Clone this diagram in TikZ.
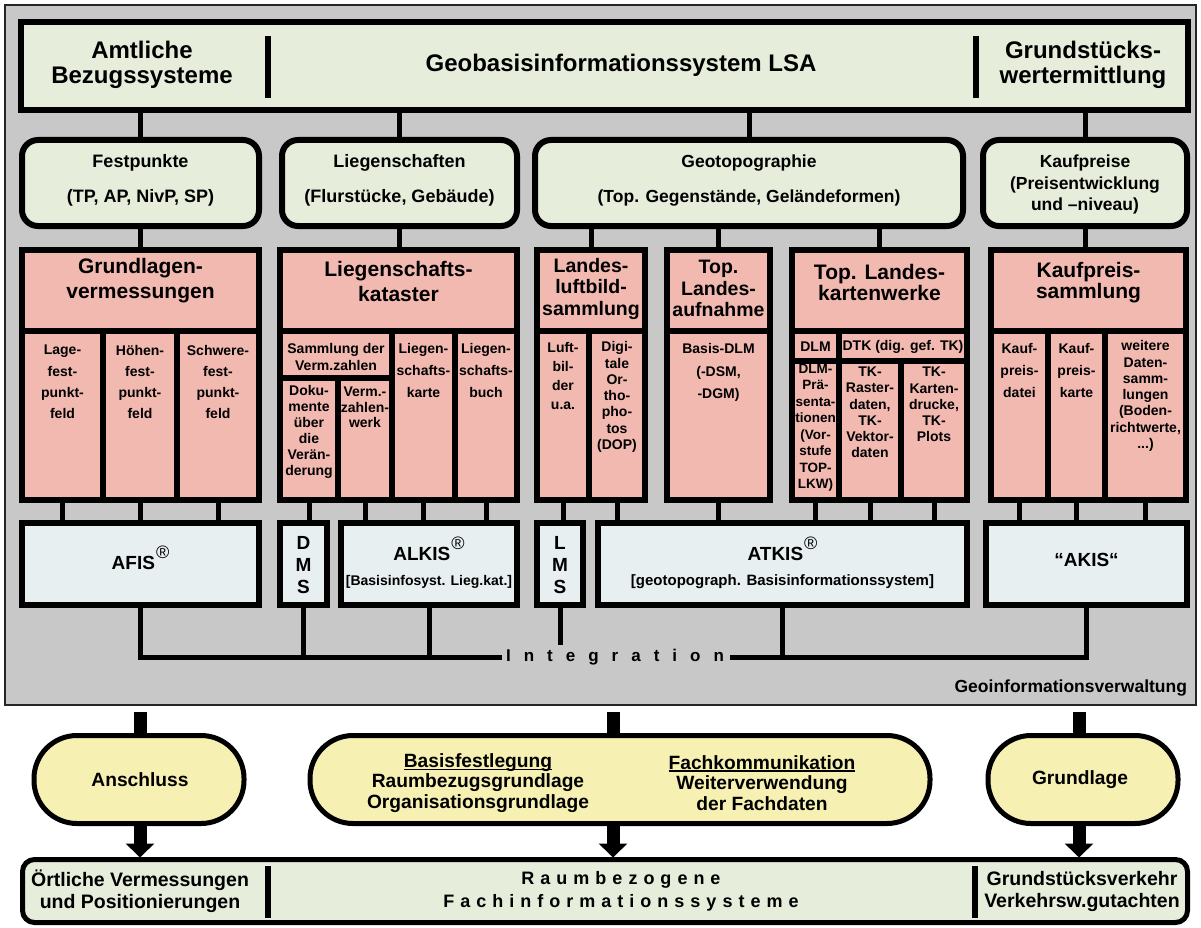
\documentclass[tikz,border=0pt]{standalone}
\usepackage{fontspec}
\setmainfont{Liberation Sans}
\usetikzlibrary{arrows.meta}
\definecolor{panelgray}{RGB}{200,200,200}
\definecolor{boxgreen}{RGB}{231,237,219}
\definecolor{boxpink}{RGB}{242,185,176}
\definecolor{boxblue}{RGB}{232,239,240}
\definecolor{boxyellow}{RGB}{246,240,178}
\newcommand\myfs[2]{\fontsize{#1}{#2}\selectfont\bfseries}
\newcommand\intfont{\myfs{17}{20}\spaceskip=13pt\relax}
\newcommand\raumfont{\myfs{18}{23}\spaceskip=6pt\relax}
\newcommand\regmark{\hspace{1pt}\raisebox{11pt}{\mdseries\fontsize{18}{18}\selectfont ®}}
\newsavebox\myulbox
\newcommand\myul[1]{\sbox\myulbox{#1}\rlap{\rule[-2.5pt]{\wd\myulbox}{1.4pt}}\usebox\myulbox}
\newcommand\mkbox[6]{%
  \pgfmathsetmacro\mkW{#5-#3}\pgfmathsetmacro\mkH{#6-#4}%
  \pgfmathsetmacro\mkX{(#3+#5)/2}\pgfmathsetmacro\mkY{(#4+#6)/2}%
  \node[#1, minimum width=\mkW pt, minimum height=\mkH pt] (#2) at (\mkX,\mkY) {};}
\tikzset{
  every node/.style={inner sep=0pt, outer sep=0pt},
  panelbox/.style={draw=black!85, line width=1.5pt, fill=panelgray},
  headbox/.style={draw, line width=6pt, fill=boxgreen},
  roundbox/.style={draw, line width=6pt, rounded corners=16pt, fill=boxgreen},
  pinkbox/.style={draw, line width=6pt, fill=boxpink},
  bluebox/.style={draw, line width=6pt, fill=boxblue},
  ovalbox/.style={draw, line width=5pt, rounded corners=43pt, fill=boxyellow},
  footbox/.style={draw, line width=5pt, rounded corners=12pt, fill=boxgreen},
  colarea/.style={rectangle},
  conn/.style={line width=5pt},
  divider/.style={line width=5.5pt},
  bigarrow/.style={line width=13pt},
  bigarrowtip/.style={line width=13pt, -{Triangle[width=28pt,length=14pt]}},
  txt/.style={align=center, text=black},
}
\begin{document}
\begin{tikzpicture}[x=1pt,y=-1pt]
\useasboundingbox (0,0) rectangle (1201,928);
% ---------- panel ----------
\mkbox{panelbox}{panel}{5}{5}{1196}{705}
% ---------- top box ----------
\mkbox{headbox}{top}{21}{22}{1188}{110}
\draw[divider] (268,36) -- (268,98);
\draw[divider] (976,36) -- (976,98);
\node[txt, font=\myfs{24}{25}] (tA) at (142,65) {Amtliche\\Bezugssysteme};
\node[txt, font=\myfs{24}{25}] (tB) at (621,65) {Geobasisinformationssystem LSA};
\node[txt, font=\myfs{24}{25}] (tC) at (1083,65) {Grundstücks-\\wertermittlung};
% ---------- row 1 ----------
\mkbox{roundbox}{fest}{22}{140}{259}{226}
\mkbox{roundbox}{lieg}{282}{140}{517}{226}
\mkbox{roundbox}{geo}{535}{140}{963}{226}
\mkbox{roundbox}{kauf}{983}{140}{1187}{226}
\node[txt, font=\myfs{18}{35}] at (140.5,180.5) {Festpunkte\\(TP, AP, NivP, SP)};
\node[txt, font=\myfs{18}{35}] at (399.5,180.5) {Liegenschaften\\(Flurstücke, Gebäude)};
\node[txt, font=\myfs{17.5}{35}] at (749,180.5) {Geotopographie\\(Top. Gegenstände, Geländeformen)};
\node[txt, font=\myfs{17.5}{21.5}] at (1085,184.5) {Kaufpreise\\(Preisentwicklung\\und –niveau)};
\foreach \n in {fest,lieg,geo,kauf} \draw[conn] (top.south -| \n.north) -- (\n.north);
% ---------- row 2 ----------
\mkbox{pinkbox}{grund}{22}{250}{259}{500}
\mkbox{pinkbox}{liegk}{280}{250}{517}{500}
\mkbox{pinkbox}{luft}{537}{250}{645}{500}
\mkbox{pinkbox}{topla}{667}{250}{770}{500}
\mkbox{pinkbox}{topk}{792}{250}{967}{500}
\mkbox{pinkbox}{kps}{991}{250}{1186}{500}
\draw[conn] (fest.south) -- (fest.south |- grund.north);
\draw[conn] (lieg.south) -- (lieg.south |- liegk.north);
\foreach \n in {luft,topla,topk} \draw[conn] (geo.south -| \n.north) -- (\n.north);
\draw[conn] (kauf.south) -- (kauf.south |- kps.north);
% header dividers
\foreach \a/\b in {22/259,280/517,537/645,667/770,792/967,991/1186}
  \draw[divider] (\a,331) -- (\b,331);
% inner dividers
\draw[divider] (103,331) -- (103,500);
\draw[divider] (177,331) -- (177,500);
\draw[divider] (392,331) -- (392,500);
\draw[divider] (455,331) -- (455,500);
\draw[divider] (280,378) -- (392,378);
\draw[divider] (338,378) -- (338,500);
\draw[divider] (589,331) -- (589,500);
\draw[divider] (792,361) -- (967,361);
\draw[divider] (839,331) -- (839,500);
\draw[divider] (901,361) -- (901,500);
\draw[divider] (1048,331) -- (1048,500);
\draw[divider] (1105,331) -- (1105,500);
% column areas
\mkbox{colarea}{cLage}{22}{331}{103}{500}
\mkbox{colarea}{cHoehe}{103}{331}{177}{500}
\mkbox{colarea}{cSchw}{177}{331}{259}{500}
\mkbox{colarea}{cDoku}{280}{378}{338}{500}
\mkbox{colarea}{cVermz}{338}{378}{392}{500}
\mkbox{colarea}{cLkarte}{392}{331}{455}{500}
\mkbox{colarea}{cLbuch}{455}{331}{517}{500}
\mkbox{colarea}{cLuftb}{537}{331}{589}{500}
\mkbox{colarea}{cDop}{589}{331}{645}{500}
\mkbox{colarea}{cBasis}{667}{331}{770}{500}
\mkbox{colarea}{cDlmp}{792}{361}{839}{500}
\mkbox{colarea}{cTkr}{839}{361}{901}{500}
\mkbox{colarea}{cTkk}{901}{361}{967}{500}
\mkbox{colarea}{cKpd}{991}{331}{1048}{500}
\mkbox{colarea}{cKpk}{1048}{331}{1105}{500}
\mkbox{colarea}{cWeit}{1105}{331}{1186}{500}
% headers
\node[txt, font=\myfs{21}{25}] at (140.5,281) {Grundlagen-\\vermessungen};
\node[txt, font=\myfs{21}{25}] at (398.5,281) {Liegenschafts-\\kataster};
\node[txt, font=\myfs{19.5}{21.5}] at (591,288.5) {Landes-\\luftbild-\\sammlung};
\node[txt, font=\myfs{19.5}{21.5}] at (718.5,288.5) {Top.\\Landes-\\aufnahme};
\node[txt, font=\myfs{21}{21.5}] at (879.5,282.5) {Top. Landes-\\kartenwerke};
\node[txt, font=\myfs{21}{21.5}] at (1088.5,282.5) {Kaufpreis-\\sammlung};
% column texts
\node[txt, font=\myfs{14}{21.3}] at (62.5,382) {Lage-\\fest-\\punkt-\\feld};
\node[txt, font=\myfs{14}{21.3}] at (140,382) {Höhen-\\fest-\\punkt-\\feld};
\node[txt, font=\myfs{14}{21.3}] at (218,382) {Schwere-\\fest-\\punkt-\\feld};
\node[txt, font=\myfs{14}{17}] at (336,356.5) {Sammlung der\\Verm.zahlen};
\node[txt, font=\myfs{14}{16}] at (309,432) {Doku-\\mente\\über\\die\\Verän-\\derung};
\node[txt, font=\myfs{14}{15.7}] at (365,407.5) {Verm.-\\zahlen-\\werk};
\node[txt, font=\myfs{14}{22}] at (423.5,370) {Liegen-\\schafts-\\karte};
\node[txt, font=\myfs{14}{22}] at (486,370) {Liegen-\\schafts-\\buch};
\node[txt, font=\myfs{14}{18.7}] at (563,376) {Luft-\\bil-\\der\\u.a.};
\node[txt, font=\myfs{14}{16.3}] at (617,397) {Digi-\\tale\\Or-\\tho-\\pho-\\tos\\(DOP)};
\node[txt, font=\myfs{14}{22.5}] at (718.5,372.5) {Basis-DLM\\(-DSM,\\-DGM)};
\node[txt, font=\myfs{14}{16}] at (815.5,347) {DLM};
\node[txt, font=\myfs{14}{16}] at (903,347) {DTK (dig. gef. TK)};
\node[txt, font=\myfs{13.5}{16.5}] at (815.5,428) {DLM-\\Prä-\\senta-\\tionen\\(Vor-\\stufe\\TOP-\\LKW)};
\node[txt, font=\myfs{14}{16.2}] at (870,412.5) {TK-\\Raster-\\daten,\\TK-\\Vektor-\\daten};
\node[txt, font=\myfs{14}{16.2}] at (934,404.5) {TK-\\Karten-\\drucke,\\TK-\\Plots};
\node[txt, font=\myfs{14}{22}] at (1019.5,370) {Kauf-\\preis-\\datei};
\node[txt, font=\myfs{14}{22}] at (1076.5,370) {Kauf-\\preis-\\karte};
\node[txt, font=\myfs{14}{16.3}] at (1145.5,396) {weitere\\Daten-\\samm-\\lungen\\(Boden-\\richtwerte,\\...)};
% ---------- row 3 ----------
\mkbox{bluebox}{afis}{22}{523}{259}{605}
\mkbox{bluebox}{dms}{280}{523}{327}{605}
\mkbox{bluebox}{alkis}{341}{523}{517}{605}
\mkbox{bluebox}{lms}{537}{523}{583}{605}
\mkbox{bluebox}{atkis}{598}{523}{967}{605}
\mkbox{bluebox}{akis}{986}{523}{1187}{605}
\foreach \c/\b in {cLage/afis,cHoehe/afis,cSchw/afis,cDoku/dms,cVermz/alkis,cLkarte/alkis,cLbuch/alkis,cLuftb/lms,cDop/atkis,cBasis/atkis,cDlmp/atkis,cTkr/atkis,cTkk/atkis,cKpd/akis,cKpk/akis,cWeit/akis}
  \draw[conn] (\c.south) -- (\c.south |- \b.north);
\node[txt, anchor=base, font=\myfs{19}{22}] at (140.5,569) {AFIS\regmark};
\node[txt, font=\myfs{19}{22}] at (303.5,565) {D\\M\\S};
\node[txt, anchor=base, font=\myfs{19}{22}] at (429,560) {ALKIS\regmark};
\node[txt, font=\myfs{14}{16}] at (429,582) {[Basisinfosyst. Lieg.kat.]};
\node[txt, font=\myfs{19}{22}] at (560,565) {L\\M\\S};
\node[txt, anchor=base, font=\myfs{19}{22}] at (782.5,560) {ATKIS\regmark};
\node[txt, font=\myfs{15}{18}] at (782.5,582) {[geotopograph. Basisinformationssystem]};
\node[txt, font=\myfs{19}{22}] at (1086.5,560) {“AKIS“};
% ---------- integration ----------
\node[txt, font=\intfont] (integ) at (615,657) {I n t e g r a t i o n};
\coordinate (intL) at ([xshift=-4pt]integ.west);
\coordinate (intR) at ([xshift=6pt]integ.east);
\coordinate (lmsEnd) at (560,645);
\draw[conn] (afis.south) -- (afis.south |- intL) -- (intL);
\draw[conn] (dms.south) -- (dms.south |- intL);
\draw[conn] (alkis.south) -- (alkis.south |- intL);
\draw[conn] (lms.south) -- (lmsEnd);
\draw[conn] (intR) -- (akis.south |- intR) -- (akis.south);
\draw[conn] (atkis.south) -- (atkis.south |- intR);
\node[anchor=east, font=\myfs{17.5}{20}] (gv) at (1187,688) {Geoinformationsverwaltung};
% ---------- bottom ----------
\mkbox{ovalbox}{ansch}{34}{735.5}{244}{823.5}
\mkbox{ovalbox}{mid}{310}{735.5}{930}{823.5}
\mkbox{ovalbox}{grl}{988}{735.5}{1178}{823.5}
\mkbox{footbox}{bot}{22.5}{859.5}{1187.5}{922.5}
\node[txt, font=\myfs{19.2}{20}] at (140,780) {Anschluss};
\node[txt, font=\myfs{19.2}{20.5}] at (478,783) {\myul{Basisfestlegung}\\Raumbezugsgrundlage\\Organisationsgrundlage};
\node[txt, font=\myfs{19.2}{20.5}] at (762,783) {\myul{Fachkommunikation}\\Weiterverwendung\\der Fachdaten};
\node[txt, font=\myfs{19.2}{20}] at (1080,780) {Grundlage};
\coordinate (aL) at (140,0);
\coordinate (aM) at (613,0);
\coordinate (aR) at (1079,0);
\draw[bigarrow] ([yshift=-7pt]panel.south -| aL) -- (ansch.north -| aL);
\draw[bigarrow] ([yshift=-7pt]panel.south -| aM) -- (mid.north -| aM);
\draw[bigarrow] ([yshift=-7pt]panel.south -| aR) -- (grl.north -| aR);
\draw[bigarrowtip] (ansch.south -| aL) -- ([yshift=2pt]bot.north -| aL);
\draw[bigarrowtip] (mid.south -| aM) -- ([yshift=2pt]bot.north -| aM);
\draw[bigarrowtip] (grl.south -| aR) -- ([yshift=2pt]bot.north -| aR);
\draw[divider] (268,866) -- (268,918);
\draw[divider] (975,866) -- (975,918);
\node[txt, font=\myfs{19.5}{22}] at (140,891) {Örtliche Vermessungen\\und Positionierungen};
\node[txt, font=\raumfont] at (621,891) {R a u m b e z o g e n e\\F a c h i n f o r m a t i o n s s y s t e m e};
\node[txt, font=\myfs{19.5}{22}] at (1082,891) {Grundstücksverkehr\\Verkehrsw.gutachten};
\end{tikzpicture}
\end{document}
